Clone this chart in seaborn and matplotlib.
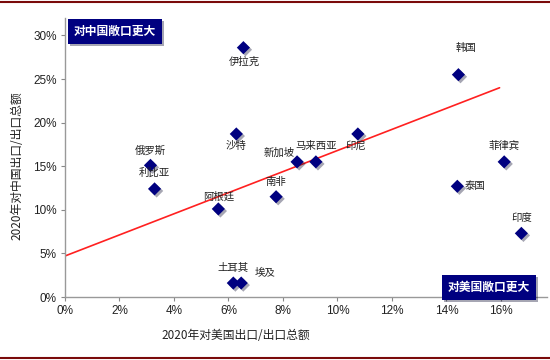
import matplotlib
matplotlib.use("Agg")
import matplotlib.pyplot as plt
import matplotlib.patheffects as pe
from matplotlib.ticker import PercentFormatter, MultipleLocator
import pandas as pd
import seaborn as sns

# data
countries = ['伊拉克', '沙特', '俄罗斯', '利比亚', '阿根廷', '土耳其', '埃及', '南非',
             '新加坡', '马来西亚', '印尼', '韩国', '菲律宾', '泰国', '印度']
us_share = [0.0655, 0.0629, 0.0314, 0.0329, 0.0563, 0.0618, 0.0647, 0.0775,
            0.0852, 0.0921, 0.1075, 0.1444, 0.1612, 0.1440, 0.1675]
cn_share = [0.286, 0.187, 0.151, 0.124, 0.101, 0.016, 0.016, 0.115,
            0.155, 0.155, 0.187, 0.255, 0.155, 0.127, 0.073]
# trend line end points
trend_x = [0.0, 0.1595]
trend_y = [0.047, 0.240]

# label offsets (pixels) for each country label
offsets = {'伊拉克': (1, -14), '沙特': (0, -12), '俄罗斯': (0, 15), '利比亚': (0, 16),
           '阿根廷': (0, 12), '土耳其': (0, 15), '埃及': (24, 10), '南非': (0, 15),
           '新加坡': (-18, 9), '马来西亚': (0, 16), '印尼': (-2, -12), '韩国': (8, 27),
           '菲律宾': (0, 16), '泰国': (18, 0), '印度': (0, 15)}

df = pd.DataFrame({'country': countries, 'us': us_share, 'cn': cn_share})

sns.set_style("white")
plt.rcParams['font.family'] = ['Noto Sans CJK SC', 'DejaVu Sans']

fig = plt.figure(figsize=(5.5, 3.6), dpi=100)
ax = fig.add_axes([0.118, 0.175, 0.877, 0.775])

navy = '#000080'
shadow = [pe.SimplePatchShadow(offset=(1.5, -1.5), alpha=0.35), pe.Normal()]
sns.lineplot(x=trend_x, y=trend_y, color='#ff2020', lw=1.2, ax=ax)
sns.scatterplot(data=df, x='us', y='cn', marker='D', s=45, color=navy,
                edgecolor=navy, linewidth=0, ax=ax, zorder=3)
ax.collections[-1].set_path_effects(shadow)

for c, x, y in zip(countries, us_share, cn_share):
    dx, dy = offsets[c]
    ax.annotate(c, (x, y), xytext=(dx, dy), textcoords='offset pixels',
                ha='center', va='center', fontsize=7.5, color='#222222')

ax.set_xlim(0, 0.177)
ax.set_ylim(0, 0.32)
ax.xaxis.set_major_locator(MultipleLocator(0.02))
ax.yaxis.set_major_locator(MultipleLocator(0.05))
ax.xaxis.set_major_formatter(PercentFormatter(1, decimals=0))
ax.yaxis.set_major_formatter(PercentFormatter(1, decimals=0))
ax.tick_params(axis='both', labelsize=8.5, length=3, width=0.8, color='#888888',
               labelcolor='#222222', direction='out', pad=3, bottom=True, left=True)
for lab in ax.get_xticklabels() + ax.get_yticklabels():
    lab.set_family(['Liberation Sans', 'DejaVu Sans'])

for s in ['top', 'right']:
    ax.spines[s].set_visible(False)
for s in ['left', 'bottom']:
    ax.spines[s].set_color('#999999')
    ax.spines[s].set_linewidth(1.0)

ax.set_xlabel('2020年对美国出口/出口总额', fontsize=8.5, color='#222222')
ax.set_ylabel('2020年对中国出口/出口总额', fontsize=8.5, color='#222222')
ax.xaxis.set_label_coords(0.355, -0.115)
ax.yaxis.set_label_coords(-0.085, 0.47)

box = dict(boxstyle='square,pad=0.5', fc=navy, ec='none')
t1 = ax.text(0.018, 0.953, '对中国敞口更大', transform=ax.transAxes, ha='left', va='center',
             fontsize=8.5, fontweight='bold', color='white', bbox=box)
t2 = ax.text(0.965, 0.034, '对美国敞口更大', transform=ax.transAxes, ha='right', va='center',
             fontsize=8.5, fontweight='bold', color='white', bbox=box)
for t in (t1, t2):
    t.get_bbox_patch().set_path_effects(shadow)

# dark red frame lines at top and bottom
fig.add_artist(plt.Line2D([0, 1], [0.994, 0.994], color='#7a0a0a', lw=1.5))
fig.add_artist(plt.Line2D([0, 1], [0.006, 0.006], color='#7a0a0a', lw=1.5))

fig.savefig('out.png', dpi=100)
